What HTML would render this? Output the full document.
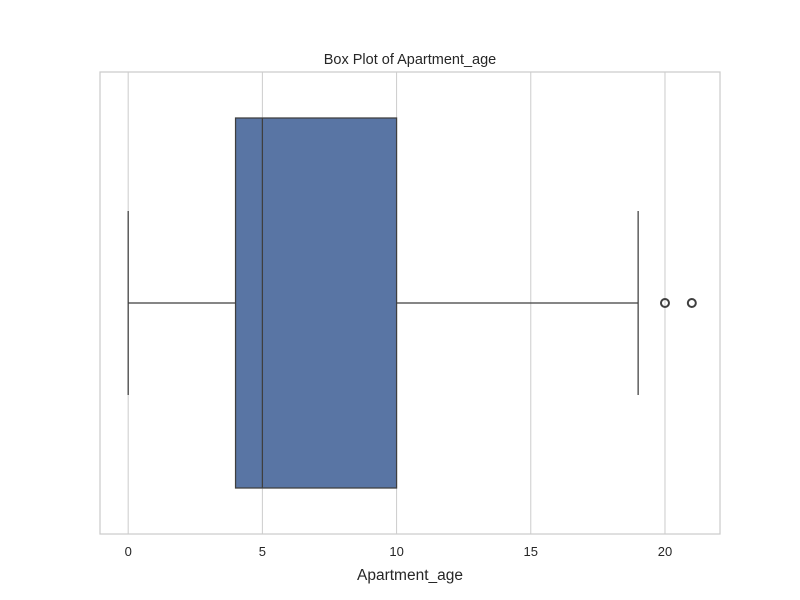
<!DOCTYPE html>
<html><head><meta charset="utf-8"><style>body{margin:0;background:#fff}svg{display:block;font-family:"Liberation Sans","DejaVu Sans",sans-serif}</style></head>
<body>
<svg id="chart" width="800" height="600" viewBox="0 0 800 600"></svg>
<script>
const tickValues=[0,5,10,15,20];
const tickLabels=["0","5","10","15","20"];
const whiskerLow=[0];
const q1=[4];
const median=[5];
const q3=[10];
const whiskerHigh=[19];
const outliers=[20,21];
const NS="http://www.w3.org/2000/svg";
const svg=document.getElementById('chart');
const L=100,R=720,T=72,B=534,xmin=-1.05,xmax=22.05;
const x=v=>L+(v-xmin)/(xmax-xmin)*(R-L);
const cy=303, boxH=370, capH=184;
function el(t,a,p){const e=document.createElementNS(NS,t);for(const k in a)e.setAttribute(k,a[k]);(p||svg).appendChild(e);return e;}
tickValues.forEach((v,i)=>{
 const g=el('line',{x1:x(v),x2:x(v),y1:T,y2:B,stroke:'#cccccc','stroke-width':1});
 
 
 const t=el('text',{x:x(v),y:556,'text-anchor':'middle','font-size':13,fill:'#262626'});
 t.textContent=tickLabels[i];
 
 
});
const fr=el('rect',{x:L,y:T,width:R-L,height:B-T,fill:'none',stroke:'#cccccc','stroke-width':1.25});


const s='#3f3f3f';
const wl=el('line',{x1:x(whiskerLow[0]),x2:x(q1[0]),y1:cy,y2:cy,stroke:s,'stroke-width':1.25});


const wh=el('line',{x1:x(q3[0]),x2:x(whiskerHigh[0]),y1:cy,y2:cy,stroke:s,'stroke-width':1.25});


[whiskerLow[0],whiskerHigh[0]].forEach(v=>{
 const c=el('line',{x1:x(v),x2:x(v),y1:cy-capH/2,y2:cy+capH/2,stroke:s,'stroke-width':1.25});
 
 
});
const box=el('rect',{x:x(q1[0]),y:cy-boxH/2,width:x(q3[0])-x(q1[0]),height:boxH,fill:'#5975a4',stroke:s,'stroke-width':1.25});


const md=el('line',{x1:x(median[0]),x2:x(median[0]),y1:cy-boxH/2,y2:cy+boxH/2,stroke:s,'stroke-width':1.25});


outliers.forEach(v=>{
 const o=el('circle',{cx:x(v),cy:cy,r:4,fill:'none',stroke:s,'stroke-width':2});
 
 
});
const ti=el('text',{x:410,y:64,'text-anchor':'middle','font-size':14.5,fill:'#262626'});
ti.textContent='Box Plot of Apartment_age';


const xl=el('text',{x:410,y:580,'text-anchor':'middle','font-size':15.5,fill:'#262626'});
xl.textContent='Apartment_age';


</script>
</body></html>
